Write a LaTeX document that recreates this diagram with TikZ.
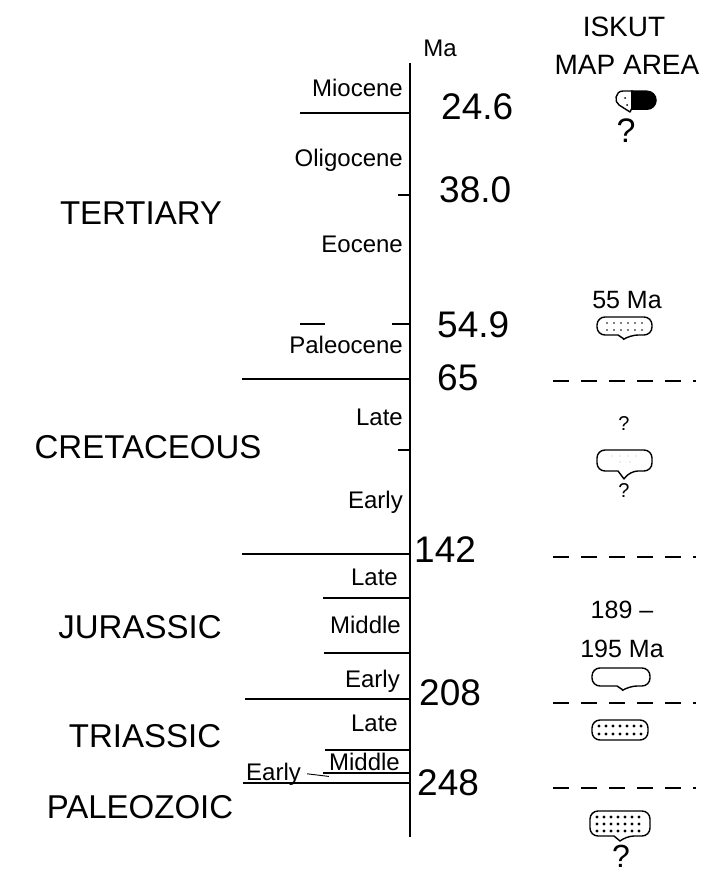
\documentclass[tikz,border=0pt]{standalone}
\usepackage{fontspec}
\setmainfont{Liberation Sans}
\usetikzlibrary{positioning}
\tikzset{
      epochlabel/.style={
        anchor=base east,
        inner sep=0pt,
        font=\fontsize{24}{28}\selectfont
      },
      periodlabel/.style={
        anchor=base,
        inner sep=0pt,
        font=\fontsize{33}{38}\selectfont
      },
      agelabel/.style={
        anchor=base west,
        inner sep=0pt,
        font=\fontsize{37}{42}\selectfont
      },
      columnlabel/.style={
        anchor=base,
        inner sep=0pt,
        font=\fontsize{28}{32}\selectfont
      },
      datelabel/.style={anchor=base, inner sep=0pt, font=\fontsize{25}{30}\selectfont},
      querymark/.style={anchor=base, inner sep=0pt},
      axisline/.style={line width=1.6pt},
      tickline/.style={line width=1.3pt},
      boundaryline/.style={line width=1.8pt, dash pattern=on 16pt off 12pt},
      blobline/.style={line width=1.4pt, line join=round}
    }
\newcommand{\mapblob}[6]{%
  \draw[blobline] ({(#1+#3)/2},#2) [rounded corners=8pt] -- (#3,#2) -- (#3,#4) -- ({#5+6},#4) [sharp corners] -- (#5,{#4+#6}) -- ({#5-6},#4) [rounded corners=8pt] -- (#1,#4) -- (#1,#2) -- cycle;}

\begin{document}
\begin{tikzpicture}[x=1pt,y=-1pt]
    \useasboundingbox (0,0) rectangle (701,874);
    \coordinate (axtop) at (410,63);
    \coordinate (axbot) at (410,837);
    \draw[axisline] (axtop) -- (axbot);
    \foreach \xs/\yy in {300/113,398/195,392/324,242/379,398/450,242/554,323/598,324/653,245/699,325/750,323/773,243/783}
      \draw[tickline] (\xs,\yy) -- (410,\yy);
    \draw[tickline] (300,324) -- (325,324);

    \node[columnlabel, font=\fontsize{24}{28}\selectfont] (ma) at (440,57) {Ma};

    \node[epochlabel] (miocene) at (403,97) {Miocene};
    \node[epochlabel] (oligocene) at (403,167) {Oligocene};
    \node[epochlabel] (eocene) at (403,253) {Eocene};
    \node[epochlabel] (paleocene) at (403,353) {Paleocene};
    \node[epochlabel] (krlate) at (403,425) {Late};
    \node[epochlabel] (krearly) at (403,508) {Early};
    \node[epochlabel] (jrlate) at (398,585) {Late};
    \node[epochlabel] (jrmiddle) at (401,633) {Middle};
    \node[epochlabel] (jrearly) at (400,687) {Early};
    \node[epochlabel] (trlate) at (398,731) {Late};
    \node[epochlabel] (trmiddle) at (400,770) {Middle};
    \node[epochlabel, anchor=base west] (trearly) at (246,780) {Early};
    \draw[line width=0.9pt] ([xshift=6pt]trearly.east) -- ([yshift=-6pt]trmiddle.south west);

    \node[agelabel] (a246) at (441,120) {24.6};
    \node[agelabel] (a380) at (439,203) {38.0};
    \node[agelabel] (a549) at (437,337) {54.9};
    \node[agelabel] (a65) at (437,390) {65};
    \node[agelabel] (a142) at (414,562) {142};
    \node[agelabel] (a208) at (419,705) {208};
    \node[agelabel] (a248) at (417,795) {248};

    \node[periodlabel] (tertiary) at (141,225) {TERTIARY};
    \node[periodlabel] (cretaceous) at (148,458) {CRETACEOUS};
    \node[periodlabel] (jurassic) at (140,638) {JURASSIC};
    \node[periodlabel] (triassic) at (145,747) {TRIASSIC};
    \node[periodlabel] (paleozoic) at (140,818) {PALEOZOIC};

    \node[columnlabel] (iskut) at (624,37) {ISKUT};
    \node[columnlabel] (maparea) at (627,75) {MAP AREA};
    \node[querymark, font=\fontsize{34}{38}\selectfont] (q1) at (626,143) {?};
    \node[datelabel] (d55) at (627,308) {55 Ma};
    \node[querymark, font=\fontsize{20}{24}\selectfont] (q2) at (624,430) {?};
    \node[querymark, font=\fontsize{20}{24}\selectfont] (q3) at (624,497) {?};
    \node[datelabel] (d189) at (622,618) {189 --};
    \node[datelabel] (d195) at (622,657) {195 Ma};
    \node[querymark, font=\fontsize{32}{36}\selectfont] (q4) at (621,867) {?};

    \foreach \yy in {381,557,703,788}
      \draw[boundaryline] (553,\yy) -- (696,\yy);

    \draw[blobline] (633,91) -- (623,91) .. controls (615,91) and (614,102) .. (619,105) -- (630,112) -- (632,108);
    \fill (631,90.5) -- (647,90.5) arc[start angle=90, end angle=-90, radius=9.75pt] -- (631,110) -- cycle;
    \fill (625,98) circle[radius=1pt] (627,105) circle[radius=1pt];

    \mapblob{597}{317}{652}{335}{624}{4}
    \foreach \xx in {607,614,...,642}
      \foreach \yy in {323,330}
        \fill (\xx,\yy) circle[radius=0.9pt];

    \mapblob{597}{450}{652}{471}{624}{8}
    \foreach \xx/\yy in {612/456,620/456,628/456,636/456,620/462,630/462}
      \fill[gray!60] (\xx,\yy) circle[radius=0.7pt];

    \mapblob{592}{668}{650}{686}{623}{4}

    \mapblob{592}{720}{648}{740}{620}{0}
    \foreach \xx in {599,606,...,642}
      \foreach \yy in {726,734}
        \fill (\xx,\yy) circle[radius=1.7pt];

    \mapblob{590}{811}{650}{836}{620}{5}
    \foreach \xx in {597,604,...,643}
      \foreach \yy in {817,824,831}
        \fill (\xx,\yy) circle[radius=1.6pt];
\end{tikzpicture}
\end{document}
